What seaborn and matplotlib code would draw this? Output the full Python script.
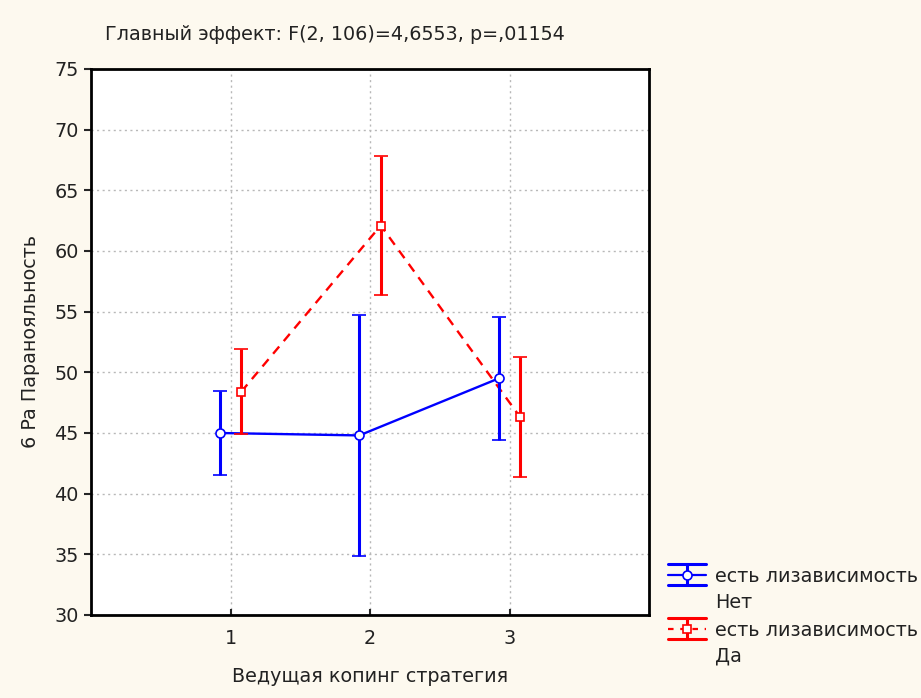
import numpy as np
import pandas as pd
import matplotlib
matplotlib.use("Agg")
import matplotlib.pyplot as plt
from matplotlib.lines import Line2D
from matplotlib.legend_handler import HandlerBase
import seaborn as sns

# Leading coping strategy (x categories) and group means / half-intervals
strategies = [1, 2, 3]
groups = ["Нет", "Да"]
means_net = [45.0, 44.8, 49.5]
errs_net = [3.5, 9.9, 5.1]
means_da = [48.4, 62.1, 46.3]
errs_da = [3.5, 5.75, 4.95]

title_text = "Главный эффект: F(2, 106)=4,6553, p=,01154"
xlabel_text = "Ведущая копинг стратегия"
ylabel_text = "6 Pa Паранояльность"
legend_prefix = "есть лизависимость"

colors = {"Нет": "#0000ff", "Да": "#ff0000"}
markers = {"Нет": "o", "Да": "s"}
marker_sizes = {"Нет": 6.5, "Да": 6.0}
dodge = {"Нет": -0.077, "Да": 0.077}
dash_styles = {"Нет": "", "Да": (4, 3)}

df = pd.DataFrame({
    "strategy": strategies * 2,
    "group": ["Нет"] * 3 + ["Да"] * 3,
    "mean": means_net + means_da,
    "err": errs_net + errs_da,
})
df["xpos"] = df["strategy"] + df["group"].map(dodge)


class ErrorbarKey(HandlerBase):
    """Legend key: two full-width caps, a short stem and the mean line with marker."""

    def __init__(self, group):
        super().__init__()
        self.group = group

    def create_artists(self, legend, orig_handle, xdescent, ydescent,
                       width, height, fontsize, trans):
        c = colors[self.group]
        x0, x1 = -xdescent, -xdescent + width
        ym = -ydescent + height / 2 + 11.2
        d = 7.5
        xs = (x0 + x1) / 2
        arts = [
            Line2D([x0, x1], [ym + d, ym + d], color=c, lw=2.2),
            Line2D([x0, x1], [ym - d, ym - d], color=c, lw=2.2),
            Line2D([xs, xs], [ym - d, ym + d], color=c, lw=2.2),
        ]
        mid = Line2D([x0, x1], [ym, ym], color=c, lw=1.6,
                     linestyle="-" if self.group == "Нет" else (0, (2.5, 3)))
        mk = Line2D([xs], [ym], marker=markers[self.group],
                    markersize=marker_sizes[self.group],
                    markerfacecolor="white", markeredgecolor=c,
                    markeredgewidth=1.2, linestyle="none")
        arts += [mid, mk]
        for a in arts:
            a.set_transform(trans)
        return arts


sns.set_style("white")
plt.rcParams["font.family"] = ["DejaVu Sans"]

fs = 13.8
ink = "#222222"
bg = "#fdf9ef"
fig = plt.figure(figsize=(9.21, 6.98), dpi=100, facecolor=bg)
ax = fig.add_axes([91 / 921, 1 - 615 / 698, 558 / 921, 546 / 698])
ax.set_facecolor("white")

# connecting lines between group means
sns.lineplot(data=df, x="xpos", y="mean", hue="group", style="group",
             palette=colors, dashes=dash_styles,
             linewidth=1.7, legend=False, ax=ax, zorder=3)

for g in groups:
    sub = df[df["group"] == g]
    ax.errorbar(sub["xpos"], sub["mean"], yerr=sub["err"], fmt=markers[g],
                color=colors[g], ecolor=colors[g], elinewidth=2.2,
                capsize=5, capthick=2.2, markersize=marker_sizes[g],
                markerfacecolor="white", markeredgecolor=colors[g],
                markeredgewidth=1.2, zorder=4)

ax.set_xlim(0, 4)
ax.set_ylim(30, 75)
ax.set_xticks(strategies)
ax.set_yticks(np.arange(30, 76, 5))
ax.grid(True, color="#b8b8b8", linestyle=(0, (1.5, 2.5)), linewidth=1.0)
ax.set_axisbelow(True)
for s in ax.spines.values():
    s.set_color("black")
    s.set_linewidth(2.0)
ax.tick_params(axis="y", direction="out", length=5, width=1.5,
               labelsize=fs, pad=4, left=True, labelcolor=ink)
ax.tick_params(axis="x", direction="in", length=4, width=1.5,
               labelsize=fs, pad=10, bottom=True, labelcolor=ink)
ax.set_xlabel(xlabel_text, fontsize=fs, labelpad=14, color=ink)
ax.set_ylabel(ylabel_text, fontsize=fs, labelpad=10, color=ink)

fig.text(105 / 921, 1 - 35 / 698, title_text, fontsize=fs,
         ha="left", va="center", color=ink)

proxies = [object(), object()]
leg = fig.legend(proxies, [f"{legend_prefix}\n{g}" for g in groups],
                 handler_map={proxies[0]: ErrorbarKey("Нет"),
                              proxies[1]: ErrorbarKey("Да")},
                 loc="upper left", bbox_to_anchor=(668 / 921, 1 - 567 / 698),
                 frameon=False, fontsize=fs, handlelength=2.0,
                 handleheight=1.0, handletextpad=0.45, labelspacing=0.49,
                 borderaxespad=0, borderpad=0)
for t in leg.get_texts():
    t.set_linespacing(1.45)
    t.set_color(ink)

fig.savefig("out.png", dpi=100, facecolor=bg)
